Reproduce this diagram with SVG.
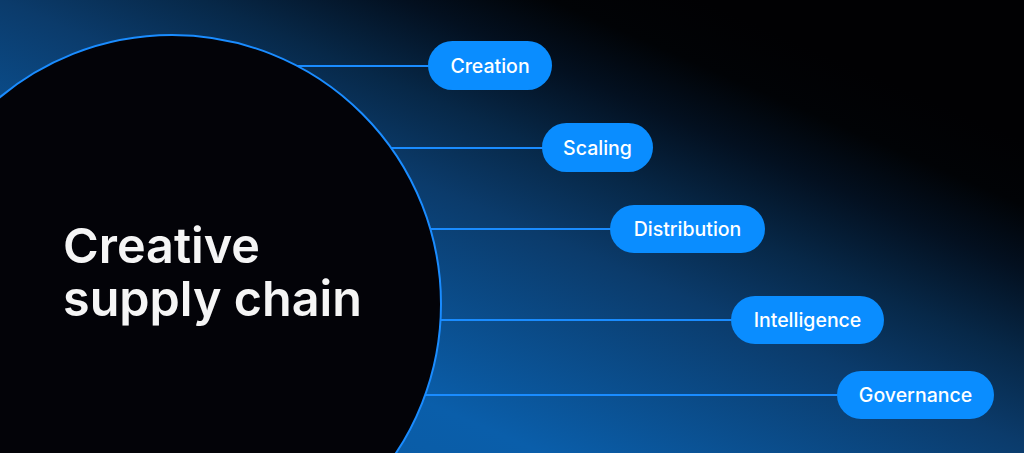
<svg xmlns="http://www.w3.org/2000/svg" width="1024" height="453" viewBox="0 0 1024 453">
  <defs>
    <linearGradient id="bg" gradientUnits="userSpaceOnUse" x1="-111" y1="256" x2="111" y2="-256">
      <stop offset="0" stop-color="#0a5ca6"/>
      <stop offset="0.143" stop-color="#0a5eaa"/>
      <stop offset="0.5" stop-color="#0b3b6b"/>
      <stop offset="0.643" stop-color="#072848"/>
      <stop offset="0.786" stop-color="#031020"/>
      <stop offset="0.893" stop-color="#010306"/>
      <stop offset="1" stop-color="#010103"/>
    </linearGradient>
    <style>
      .conn { stroke: #1a8cff; stroke-width: 2; fill: none; }
      .pill { fill: #0a8dff; }
      .lbl { font-family: Inter, "Liberation Sans", sans-serif; font-size: 19.5px; font-weight: 500; fill: #ffffff; text-anchor: middle; dominant-baseline: central; }
      .title { font-family: Inter, "Liberation Sans", sans-serif; font-size: 48.5px; font-weight: 600; fill: #f5f5f5; }
    </style>
  </defs>
  <rect width="1024" height="453" fill="url(#bg)"/>
  <g id="connectors">
    <line class="conn" x1="290" y1="66" x2="430" y2="66"/>
    <line class="conn" x1="385" y1="148" x2="543" y2="148"/>
    <line class="conn" x1="425" y1="229" x2="612" y2="229"/>
    <line class="conn" x1="432" y1="320" x2="733" y2="320"/>
    <line class="conn" x1="418" y1="395" x2="840" y2="395"/>
  </g>
  <g id="hub">
    <circle cx="172" cy="304" r="269" fill="#030308" stroke="#1a8cff" stroke-width="2"/>
    <text class="title"><tspan x="63" y="263">Creative</tspan><tspan x="63" y="316">supply chain</tspan></text>
  </g>
  <g id="creation">
    <rect class="pill" x="428" y="41" width="124" height="49" rx="24.5"/>
    <text class="lbl" x="490" y="65.5">Creation</text>
  </g>
  <g id="scaling">
    <rect class="pill" x="542" y="123" width="111" height="49" rx="24.5"/>
    <text class="lbl" x="597.5" y="147.5">Scaling</text>
  </g>
  <g id="distribution">
    <rect class="pill" x="610" y="205" width="155" height="48" rx="24"/>
    <text class="lbl" x="687.5" y="229">Distribution</text>
  </g>
  <g id="intelligence">
    <rect class="pill" x="731" y="296" width="153" height="48" rx="24"/>
    <text class="lbl" x="807.5" y="320">Intelligence</text>
  </g>
  <g id="governance">
    <rect class="pill" x="837" y="371" width="157" height="48" rx="24"/>
    <text class="lbl" x="915.5" y="395">Governance</text>
  </g>
</svg>
